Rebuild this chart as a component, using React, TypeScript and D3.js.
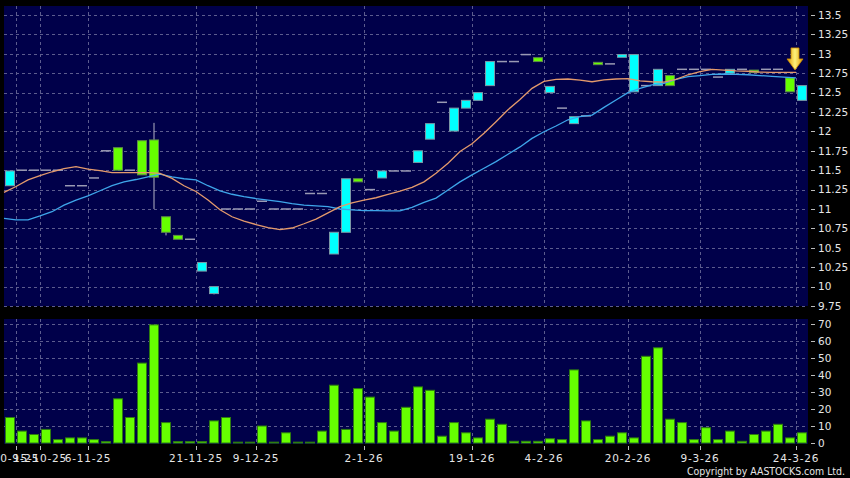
import * as d3 from "d3"

// daily candles (one slot per trading day with a trade)
const opens = [
  11.3, 11.5, 11.5, 11.5, 11.5, 11.3, 11.3, 11.4, 11.75, 11.79,
  11.5, 11.88, 11.89, 10.9, 10.66, 10.61, 10.2, 9.91, 11.0, 11.0,
  11.0, 11.1, 11.0, 11.0, 11.0, 11.2, 11.2, 10.42, 10.7, 11.39,
  11.25, 11.4, 11.49, 11.49, 11.6, 11.9, 12.375, 12.005, 12.3, 12.4,
  12.59, 12.9, 12.9, 12.99, 12.95, 12.5, 12.3, 12.1, 12.2, 12.89,
  12.87, 12.955, 12.51, 12.59, 12.59, 12.72, 12.8, 12.8, 12.8, 12.7,
  12.75, 12.8, 12.79, 12.8, 12.8, 12.69, 12.4,
]
const closes = [
  11.49, 11.5, 11.5, 11.5, 11.5, 11.3, 11.3, 11.4, 11.75, 11.5,
  11.5, 11.44, 11.41, 10.7, 10.61, 10.61, 10.31, 10.0, 11.0, 11.0,
  11.0, 11.1, 11.0, 11.0, 11.0, 11.2, 11.2, 10.7, 11.39, 11.35,
  11.25, 11.49, 11.49, 11.49, 11.75, 12.1, 12.375, 12.3, 12.4, 12.5,
  12.9, 12.9, 12.9, 12.99, 12.9, 12.58, 12.3, 12.19, 12.2, 12.86,
  12.87, 12.99, 12.99, 12.59, 12.8, 12.59, 12.8, 12.8, 12.8, 12.7,
  12.8, 12.8, 12.76, 12.8, 12.8, 12.51, 12.59,
]
const highs = [
  11.49, 11.5, 11.5, 11.5, 11.5, 11.3, 11.3, 11.4, 11.75, 11.79,
  11.5, 11.88, 12.11, 10.9, 10.66, 10.61, 10.31, 10.0, 11.0, 11.0,
  11.0, 11.1, 11.0, 11.0, 11.0, 11.2, 11.2, 10.7, 11.39, 11.39,
  11.25, 11.49, 11.49, 11.49, 11.75, 12.1, 12.375, 12.3, 12.4, 12.5,
  12.9, 12.9, 12.9, 12.99, 12.95, 12.58, 12.3, 12.19, 12.2, 12.89,
  12.87, 12.99, 12.99, 12.59, 12.8, 12.72, 12.8, 12.8, 12.8, 12.7,
  12.8, 12.8, 12.79, 12.8, 12.8, 12.69, 12.59,
]
const lows = [
  11.3, 11.5, 11.5, 11.5, 11.5, 11.3, 11.3, 11.4, 11.75, 11.5,
  11.5, 11.44, 11.0, 10.66, 10.61, 10.61, 10.2, 9.9, 11.0, 11.0,
  11.0, 11.1, 11.0, 11.0, 11.0, 11.2, 11.2, 10.42, 10.7, 11.35,
  11.25, 11.4, 11.49, 11.49, 11.6, 11.9, 12.375, 12.005, 12.3, 12.4,
  12.59, 12.9, 12.9, 12.99, 12.9, 12.5, 12.3, 12.1, 12.2, 12.86,
  12.87, 12.955, 12.51, 12.59, 12.59, 12.59, 12.8, 12.8, 12.8, 12.7,
  12.75, 12.8, 12.76, 12.8, 12.8, 12.51, 12.4,
]
const volumes = [
  15, 7, 5, 8, 2, 3, 3, 2, 0.8, 26,
  15, 47, 69.5, 12, 0.8, 0.8, 0.8, 13, 15, 0.5,
  0.5, 10, 0.5, 6, 0.5, 0.5, 7, 34, 8, 32,
  27, 12, 7, 21, 33, 31, 4, 12, 6, 3,
  14, 11, 1, 1, 1, 2.5, 2, 43, 13, 2,
  4, 6, 3, 51, 56, 14, 12, 2, 9, 2,
  7, 1, 5, 7, 11, 3, 6,
]
// moving averages, read at slot edges
const maShort = [
  11.215, 11.29, 11.375, 11.43, 11.48, 11.52, 11.545, 11.515, 11.495, 11.47,
  11.47, 11.47, 11.47, 11.46, 11.395, 11.3, 11.225, 11.115, 10.99, 10.9,
  10.845, 10.8, 10.76, 10.735, 10.755, 10.81, 10.87, 10.95, 11.03, 11.08,
  11.115, 11.145, 11.19, 11.23, 11.28, 11.35, 11.46, 11.59, 11.74, 11.84,
  11.975, 12.125, 12.28, 12.41, 12.555, 12.645, 12.67, 12.675, 12.66, 12.64,
  12.665, 12.675, 12.68, 12.65, 12.64, 12.635, 12.67, 12.73, 12.77, 12.8,
  12.79, 12.78, 12.775, 12.765, 12.76, 12.76, 12.76,
]
const maLong = [
  10.88, 10.86, 10.86, 10.91, 10.965, 11.05, 11.115, 11.17, 11.235, 11.3,
  11.35, 11.38, 11.415, 11.45, 11.415, 11.39, 11.375, 11.3, 11.235, 11.19,
  11.16, 11.135, 11.115, 11.095, 11.07, 11.05, 11.04, 11.03, 11.0, 10.99,
  10.98, 10.98, 10.975, 10.975, 11.02, 11.085, 11.14, 11.245, 11.35, 11.44,
  11.525, 11.61, 11.705, 11.8, 11.91, 11.995, 12.07, 12.15, 12.19, 12.21,
  12.31, 12.405, 12.5, 12.555, 12.6, 12.62, 12.67, 12.705, 12.72, 12.735,
  12.74, 12.735, 12.73, 12.72, 12.71, 12.7, 12.69,
]
const dateLabels = ["30-9-25", "15-10-25", "6-11-25", "21-11-25", "9-12-25", "2-1-26", "19-1-26", "4-2-26", "20-2-26", "9-3-26", "24-3-26"]
const dateSlots = [1, 3, 7, 16, 21, 30, 39, 45, 52, 58, 66]
const priceTicks = [9.75, 10, 10.25, 10.5, 10.75, 11, 11.25, 11.5, 11.75, 12, 12.25, 12.5, 12.75, 13, 13.25, 13.5]
const volumeTicks = [0, 10, 20, 30, 40, 50, 60, 70]

const W = 850
const H = 478
const left = 4
const right = 808
const priceTop = 6
const priceBottom = 306
const volTop = 319
const volBottom = 444

const navy = "#00004a"
const gridColor = "#5c5c8e"
const labelColor = "#e6e6e6"
const font = "DejaVu Sans"

export default function App() {
  const x = d3.scaleLinear().domain([0, opens.length]).range([left, right])
  const slot = x(1) - x(0)
  const yP = d3.scaleLinear().domain([9.75, 13.5]).range([priceBottom, 15])
  const yV = d3.scaleLinear().domain([0, 70]).range([443, 324])

  const line = (vals: number[]) =>
    d3
      .line<number>()
      .x((_, i) => x(i))
      .y((d) => yP(d))(vals) as string

  const fmt = (v: number) => String(+v.toFixed(2))

  // arrow at the last MA point
  const ax = x(maShort.length - 1) - 1
  const ay = yP(maShort[maShort.length - 1]) - 2.5
  const arrow = `M${ax - 4},${ay - 22} L${ax + 4},${ay - 22} L${ax + 4},${ay - 11} L${ax + 8},${ay - 11} L${ax},${ay} L${ax - 8},${ay - 11} L${ax - 4},${ay - 11} Z`

  return (
    <svg width={W} height={H} style={{ position: "absolute", left: 0, top: 0, background: "#000" }} fontFamily={font}>
      <defs>
        <linearGradient id="arrowGrad" x1="0" x2="1" y1="0" y2="0">
          <stop offset="0" stopColor="#e09a00" />
          <stop offset="0.5" stopColor="#fff27a" />
          <stop offset="1" stopColor="#e09a00" />
        </linearGradient>
      </defs>
      <rect width={W} height={H} fill="#000" />

      {/* price panel */}
      <rect x={left} y={priceTop} width={right - left} height={priceBottom - priceTop} fill={navy} />
      {priceTicks.map((t) => (
        <line key={"pg" + t} x1={left} x2={right} y1={Math.round(yP(t)) + 0.5} y2={Math.round(yP(t)) + 0.5} stroke={gridColor} strokeDasharray="3,3" />
      ))}
      {dateSlots.map((s) => (
        <line key={"pv" + s} x1={Math.round(x(s)) + 0.5} x2={Math.round(x(s)) + 0.5} y1={priceTop} y2={priceBottom} stroke={gridColor} strokeDasharray="3,3" />
      ))}

      {/* volume panel */}
      <rect x={left} y={volTop} width={right - left} height={volBottom - volTop} fill={navy} />
      {volumeTicks.slice(1).map((t) => (
        <line key={"vg" + t} x1={left} x2={right} y1={Math.round(yV(t)) + 0.5} y2={Math.round(yV(t)) + 0.5} stroke={gridColor} strokeDasharray="3,3" />
      ))}
      {dateSlots.map((s) => (
        <line key={"vv" + s} x1={Math.round(x(s)) + 0.5} x2={Math.round(x(s)) + 0.5} y1={volTop} y2={volBottom} stroke={gridColor} strokeDasharray="3,3" />
      ))}

      {/* volume bars */}
      {volumes.map((v, i) => (
        <rect
          key={"vb" + i}
          x={Math.round(x(i)) + 1.5}
          y={yV(v)}
          width={slot - 3}
          height={yV(0) - yV(v)}
          fill="#66ff00"
          stroke="#2e7d10"
          strokeWidth={1}
        />
      ))}

      {/* candles */}
      {opens.map((o, i) => {
        const c = closes[i]
        const bx = Math.round(x(i)) + 1.5
        const bw = slot - 3
        const cx = bx + bw / 2
        const top = Math.max(o, c)
        const bot = Math.min(o, c)
        const wicks = []
        if (highs[i] > top)
          wicks.push(<line key="h" x1={cx} x2={cx} y1={yP(highs[i])} y2={yP(top)} stroke="#b4b4c4" />)
        if (lows[i] < bot)
          wicks.push(<line key="l" x1={cx} x2={cx} y1={yP(bot)} y2={yP(lows[i])} stroke="#b4b4c4" />)
        if (o === c) {
          return (
            <g key={"c" + i}>
              <line x1={bx - 0.5} x2={bx + bw + 0.5} y1={yP(o)} y2={yP(o)} stroke="#9a9ab4" strokeWidth={1.5} />
            </g>
          )
        }
        const up = c > o
        return (
          <g key={"c" + i}>
            {wicks}
            <rect
              x={bx}
              y={yP(top)}
              width={bw}
              height={yP(bot) - yP(top)}
              fill={up ? "#00ffff" : "#66ff00"}
              stroke={up ? "#7a98a6" : "#5f8a4a"}
              strokeWidth={1}
            />
          </g>
        )
      })}

      {/* moving averages */}
      <path d={line(maLong)} fill="none" stroke="#3ea6ea" strokeWidth={1.3} />
      <path d={line(maShort)} fill="none" stroke="#e49a6c" strokeWidth={1.3} />

      <path d={arrow} fill="url(#arrowGrad)" stroke="#c98a00" strokeWidth={0.8} />

      {/* price axis */}
      {priceTicks.map((t) => (
        <g key={"pt" + t}>
          <line x1={811} x2={815} y1={Math.round(yP(t)) + 0.5} y2={Math.round(yP(t)) + 0.5} stroke="#bbb" />
          <text x={818} y={yP(t)} dy="0.36em" fontSize={10.5} fill={labelColor}>
            {fmt(t)}
          </text>
        </g>
      ))}

      {/* volume axis */}
      {volumeTicks.map((t) => (
        <g key={"vt" + t}>
          <line x1={811} x2={815} y1={Math.round(yV(t)) + 0.5} y2={Math.round(yV(t)) + 0.5} stroke="#bbb" />
          <text x={818} y={yV(t)} dy="0.36em" fontSize={10.5} fill={labelColor}>
            {t}
          </text>
        </g>
      ))}

      {/* date axis */}
      {dateSlots.map((s, k) => (
        <g key={"dt" + s}>
          <line x1={Math.round(x(s)) + 0.5} x2={Math.round(x(s)) + 0.5} y1={446} y2={450} stroke="#bbb" />
          <text x={x(s)} y={462} textAnchor="middle" fontSize={10.5} letterSpacing={0.8} fill={labelColor}>
            {dateLabels[k]}
          </text>
        </g>
      ))}

      <text x={845} y={475} textAnchor="end" fontSize={10} fill={labelColor} textLength={158} lengthAdjust="spacingAndGlyphs">
        Copyright by AASTOCKS.com Ltd.
      </text>
    </svg>
  )
}
